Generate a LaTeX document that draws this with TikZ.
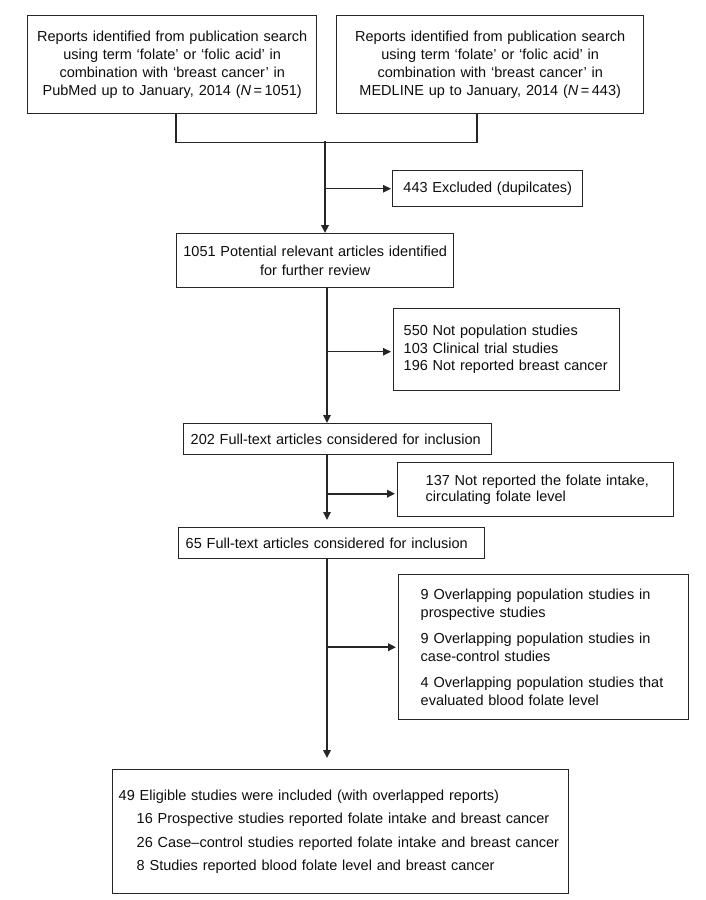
\documentclass[tikz,border=0pt]{standalone}
\usepackage{fontspec}
\setmainfont{Liberation Sans}
\usetikzlibrary{arrows.meta,calc}
\begin{document}
\begin{tikzpicture}[x=1pt,y=-1pt,
  box/.style={draw=black!85, line width=1.4pt, inner ysep=0pt, anchor=north west},
  ln/.style={draw=black!85, line width=1.3pt},
  thk/.style={draw=black!85, line width=2pt},
  arr/.style={-{Triangle[length=8pt,width=7.5pt]}},
  font=\fontsize{14.5}{18.3}\selectfont, text=black!95]
\useasboundingbox (0,0) rectangle (706,900);

\node[box, minimum width=289, minimum height=98, text width=281, inner xsep=4, align=center] (b1) at (27,15)
 {Reports identified from publication search\\using term ‘folate’ or ‘folic acid’ in\\combination with ‘breast cancer’ in\\PubMed up to January, 2014 (\textit{N}\kern2.5pt=\kern2.5pt1051)};
\node[box, minimum width=307, minimum height=98, text width=299, inner xsep=4, align=center] (b2) at (336,15)
 {Reports identified from publication search\\using term ‘folate’ or ‘folic acid’ in\\combination with ‘breast cancer’ in\\MEDLINE up to January, 2014 (\textit{N}\kern2.5pt=\kern2.5pt443)};
\node[box, minimum width=190, minimum height=36, text width=182, inner xsep=4, align=center] (ex1) at (392,170)
 {443 Excluded (dupilcates)};
\node[box, minimum width=277, minimum height=54, text width=269, inner xsep=4, align=center] (b3) at (176,233)
 {1051 Potential relevant articles identified\\for further review};
\node[box, minimum width=226, minimum height=82, text width=206, inner xsep=10, align=left, font=\fontsize{14.5}{17.5}\selectfont] (ex2) at (393,308)
 {550 Not population studies\\103 Clinical trial studies\\196 Not reported breast cancer};
\node[box, minimum width=308, minimum height=31, text width=294, inner xsep=7, align=left] (b4) at (183,423)
 {202 Full-text articles considered for inclusion};
\node[box, minimum width=276, minimum height=54, text width=244, inner xsep=16, align=left, font=\fontsize{14.5}{16.5}\selectfont] (ex3) at (397,462)
 {\hspace*{12pt}137 Not reported the folate intake,\\\hspace*{12pt}circulating folate level};
\node[box, minimum width=306, minimum height=31, text width=292, inner xsep=7, align=left] (b5) at (178,527)
 {65 Full-text articles considered for inclusion};
\node[box, minimum width=290, minimum height=145, text width=258, inner xsep=16, align=left, font=\fontsize{14.5}{17.5}\selectfont] (ex4) at (398,574)
 {\hspace*{6pt}9 Overlapping population studies in\\\hspace*{6pt}prospective studies\\[9pt]\hspace*{6pt}9 Overlapping population studies in\\\hspace*{6pt}case-control studies\\[9pt]\hspace*{6pt}4 Overlapping population studies that\\\hspace*{6pt}evaluated blood folate level};
\node[box, minimum width=456, minimum height=124, text width=444, inner xsep=6, align=left, font=\fontsize{14.5}{23.3}\selectfont] (b6) at (112,769)
 {49 Eligible studies were included (with overlapped reports)\\
 \hspace*{18pt}16 Prospective studies reported folate intake and breast cancer\\
 \hspace*{18pt}26 Case–control studies reported folate intake and breast cancer\\
 \hspace*{18pt}8 Studies reported blood folate level and breast cancer};

\coordinate (j) at (325,141);
\coordinate (tx) at (327,0);

\draw[ln] ([xshift=149]b1.south west) -- ++(0,28) -| ([xshift=141]b2.south west);
\draw[thk,arr] (j) -- (j |- b3.north);
\draw[ln,arr,shorten >=1pt] (j |- ex1.west) -- (ex1.west);

\draw[ln,arr] (tx |- b3.south) -- (tx |- b4.north);
\draw[ln,arr,shorten >=2pt] ([yshift=-2]tx |- ex2.west) -- ([yshift=-2]ex2.west);

\draw[ln,arr,shorten >=7pt] (tx |- b4.south) -- (tx |- b5.north);
\draw[thk,arr,shorten >=2pt] ([yshift=-4]tx |- ex3.west) -- ([yshift=-4]ex3.west);

\draw[thk,arr,shorten >=11pt] (tx |- b5.south) -- (tx |- b6.north);
\draw[thk,arr,shorten >=2pt] (tx |- ex4.west) -- (ex4.west);
\end{tikzpicture}
\end{document}
